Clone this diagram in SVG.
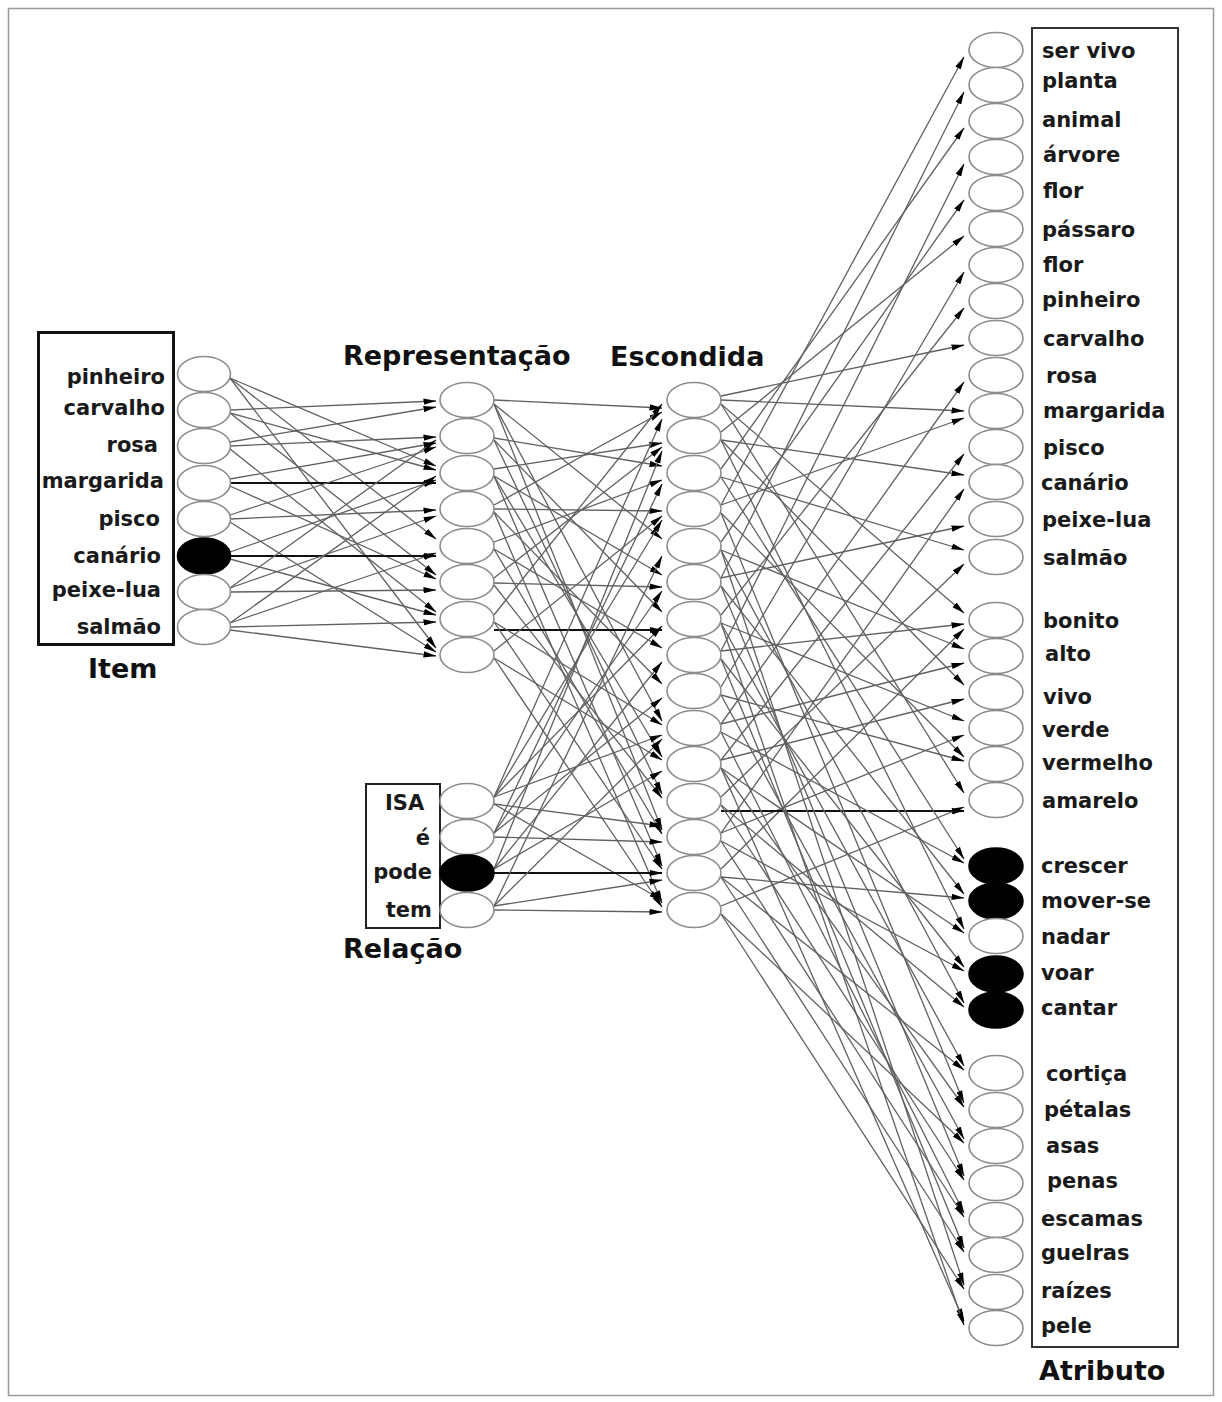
<svg xmlns="http://www.w3.org/2000/svg" width="1222" height="1402" viewBox="0 0 1222 1402">
  <style>
    .n { fill: #fff; stroke: #8c8c8c; stroke-width: 1.6; }
    .on { fill: #000; stroke: #000; stroke-width: 1.6; }
    .c { stroke: #606060; stroke-width: 1.3; fill: none; marker-end: url(#ah); }
    .b { stroke: #111; stroke-width: 2.2; fill: none; marker-end: url(#ah); }
    .lbl { font-family: "DejaVu Sans", Verdana, sans-serif; font-weight: bold; font-size: 21px; fill: #1a1a1a; }
    .end { text-anchor: end; }
    .ttl { font-family: "DejaVu Sans", Verdana, sans-serif; font-weight: bold; font-size: 27px; fill: #111; }
    .box { fill: none; }
  </style>
  <defs>
    <marker id="ah" markerUnits="userSpaceOnUse" markerWidth="13" markerHeight="7" refX="12.5" refY="3.5" orient="auto">
      <path d="M0,0.4 L13,3.5 L0,6.6 z" fill="#000"/>
    </marker>
  </defs>

  <rect x="0" y="0" width="1222" height="1402" fill="#fff"/>
  <rect x="8.5" y="8.5" width="1205" height="1387" fill="none" stroke="#9a9a9a" stroke-width="1.5"/>

  <!-- connectors -->
  <g id="connectors">
    <!-- item -> representation -->
    <line class="c" x1="230" y1="378" x2="436" y2="466"/>
    <line class="c" x1="230" y1="378" x2="436" y2="539"/>
    <line class="c" x1="230" y1="378" x2="436" y2="648"/>
    <line class="c" x1="230" y1="410" x2="436" y2="401"/>
    <line class="c" x1="230" y1="413" x2="436" y2="470"/>
    <line class="c" x1="230" y1="413" x2="436" y2="575"/>
    <line class="c" x1="230" y1="446" x2="436" y2="437"/>
    <line class="c" x1="230" y1="442" x2="436" y2="407"/>
    <line class="c" x1="230" y1="449" x2="436" y2="612"/>
    <line class="b" x1="230" y1="483" x2="436" y2="483"/>
    <line class="c" x1="230" y1="479" x2="436" y2="443"/>
    <line class="c" x1="230" y1="486" x2="436" y2="579"/>
    <line class="c" x1="230" y1="519" x2="436" y2="510"/>
    <line class="c" x1="230" y1="515" x2="436" y2="447"/>
    <line class="c" x1="230" y1="522" x2="436" y2="652"/>
    <line class="b" x1="230" y1="556" x2="436" y2="556"/>
    <line class="c" x1="230" y1="552" x2="436" y2="480"/>
    <line class="c" x1="230" y1="559" x2="436" y2="615"/>
    <line class="c" x1="230" y1="588" x2="436" y2="516"/>
    <line class="c" x1="230" y1="588" x2="436" y2="440"/>
    <line class="c" x1="230" y1="592" x2="436" y2="590"/>
    <line class="c" x1="230" y1="623" x2="436" y2="476"/>
    <line class="c" x1="230" y1="623" x2="436" y2="553"/>
    <line class="c" x1="230" y1="627" x2="436" y2="622"/>
    <line class="c" x1="230" y1="630" x2="436" y2="656"/>

    <!-- representation -> hidden -->
    <line class="c" x1="494" y1="400" x2="662" y2="408"/>
    <line class="c" x1="494" y1="404" x2="662" y2="539"/>
    <line class="c" x1="494" y1="404" x2="662" y2="721"/>
    <line class="c" x1="494" y1="404" x2="662" y2="830"/>
    <line class="c" x1="494" y1="438" x2="662" y2="466"/>
    <line class="c" x1="494" y1="440" x2="662" y2="612"/>
    <line class="c" x1="494" y1="440" x2="662" y2="794"/>
    <line class="c" x1="494" y1="469" x2="662" y2="443"/>
    <line class="c" x1="494" y1="476" x2="662" y2="575"/>
    <line class="c" x1="494" y1="476" x2="662" y2="757"/>
    <line class="c" x1="494" y1="476" x2="662" y2="866"/>
    <line class="c" x1="494" y1="505" x2="662" y2="412"/>
    <line class="c" x1="494" y1="509" x2="662" y2="511"/>
    <line class="c" x1="494" y1="512" x2="662" y2="684"/>
    <line class="c" x1="494" y1="512" x2="662" y2="903"/>
    <line class="c" x1="494" y1="542" x2="662" y2="480"/>
    <line class="c" x1="494" y1="549" x2="662" y2="648"/>
    <line class="c" x1="494" y1="549" x2="662" y2="834"/>
    <line class="c" x1="494" y1="578" x2="662" y2="447"/>
    <line class="c" x1="494" y1="583" x2="662" y2="587"/>
    <line class="c" x1="494" y1="585" x2="662" y2="798"/>
    <line class="b" x1="494" y1="630" x2="662" y2="630"/>
    <line class="c" x1="494" y1="615" x2="662" y2="404"/>
    <line class="c" x1="494" y1="622" x2="662" y2="725"/>
    <line class="c" x1="494" y1="622" x2="662" y2="869"/>
    <line class="c" x1="494" y1="651" x2="662" y2="516"/>
    <line class="c" x1="494" y1="658" x2="662" y2="760"/>
    <line class="c" x1="494" y1="658" x2="662" y2="907"/>

    <!-- relation -> hidden -->
    <line class="c" x1="494" y1="797" x2="662" y2="419"/>
    <line class="c" x1="494" y1="797" x2="662" y2="520"/>
    <line class="c" x1="494" y1="797" x2="662" y2="626"/>
    <line class="c" x1="494" y1="797" x2="662" y2="735"/>
    <line class="c" x1="494" y1="804" x2="662" y2="826"/>
    <line class="c" x1="494" y1="804" x2="662" y2="900"/>
    <line class="c" x1="494" y1="833" x2="662" y2="484"/>
    <line class="c" x1="494" y1="833" x2="662" y2="591"/>
    <line class="c" x1="494" y1="833" x2="662" y2="698"/>
    <line class="c" x1="494" y1="837" x2="662" y2="842"/>
    <line class="b" x1="494" y1="873" x2="662" y2="873"/>
    <line class="c" x1="494" y1="869" x2="662" y2="451"/>
    <line class="c" x1="494" y1="869" x2="662" y2="662"/>
    <line class="c" x1="494" y1="869" x2="662" y2="771"/>
    <line class="c" x1="494" y1="906" x2="662" y2="556"/>
    <line class="c" x1="494" y1="906" x2="662" y2="739"/>
    <line class="c" x1="494" y1="906" x2="662" y2="880"/>
    <line class="c" x1="494" y1="910" x2="662" y2="912"/>

    <!-- hidden -> attribute -->
    <line class="c" x1="721" y1="505" x2="964" y2="57"/>
    <line class="c" x1="721" y1="578" x2="964" y2="92"/>
    <line class="c" x1="721" y1="469" x2="964" y2="128"/>
    <line class="c" x1="721" y1="651" x2="964" y2="164"/>
    <line class="c" x1="721" y1="542" x2="964" y2="200"/>
    <line class="c" x1="721" y1="432" x2="964" y2="236"/>
    <line class="c" x1="721" y1="687" x2="964" y2="272"/>
    <line class="c" x1="721" y1="615" x2="964" y2="308"/>
    <line class="c" x1="721" y1="396" x2="964" y2="345"/>
    <line class="c" x1="721" y1="724" x2="964" y2="382"/>
    <line class="c" x1="721" y1="505" x2="964" y2="418"/>
    <line class="c" x1="721" y1="400" x2="964" y2="411"/>
    <line class="c" x1="721" y1="760" x2="964" y2="454"/>
    <line class="c" x1="721" y1="440" x2="964" y2="475"/>
    <line class="c" x1="721" y1="833" x2="964" y2="489"/>
    <line class="c" x1="721" y1="578" x2="964" y2="526"/>
    <line class="c" x1="721" y1="797" x2="964" y2="564"/>
    <line class="c" x1="721" y1="477" x2="964" y2="550"/>
    <line class="c" x1="721" y1="404" x2="964" y2="613"/>
    <line class="c" x1="721" y1="651" x2="964" y2="624"/>
    <line class="c" x1="721" y1="869" x2="964" y2="629"/>
    <line class="c" x1="721" y1="550" x2="964" y2="649"/>
    <line class="c" x1="721" y1="724" x2="964" y2="663"/>
    <line class="c" x1="721" y1="440" x2="964" y2="685"/>
    <line class="c" x1="721" y1="760" x2="964" y2="699"/>
    <line class="c" x1="721" y1="623" x2="964" y2="721"/>
    <line class="c" x1="721" y1="833" x2="964" y2="735"/>
    <line class="c" x1="721" y1="513" x2="964" y2="757"/>
    <line class="c" x1="721" y1="695" x2="964" y2="761"/>
    <line class="b" x1="721" y1="811" x2="964" y2="811"/>
    <line class="c" x1="721" y1="404" x2="964" y2="793"/>
    <line class="c" x1="721" y1="906" x2="964" y2="807"/>
    <line class="c" x1="721" y1="477" x2="964" y2="859"/>
    <line class="c" x1="721" y1="732" x2="964" y2="863"/>
    <line class="c" x1="721" y1="586" x2="964" y2="894"/>
    <line class="c" x1="721" y1="877" x2="964" y2="898"/>
    <line class="c" x1="721" y1="440" x2="964" y2="929"/>
    <line class="c" x1="721" y1="768" x2="964" y2="933"/>
    <line class="c" x1="721" y1="659" x2="964" y2="967"/>
    <line class="c" x1="721" y1="841" x2="964" y2="971"/>
    <line class="c" x1="721" y1="550" x2="964" y2="1003"/>
    <line class="c" x1="721" y1="805" x2="964" y2="1007"/>
    <line class="c" x1="721" y1="623" x2="964" y2="1066"/>
    <line class="c" x1="721" y1="877" x2="964" y2="1070"/>
    <line class="c" x1="721" y1="513" x2="964" y2="1103"/>
    <line class="c" x1="721" y1="768" x2="964" y2="1107"/>
    <line class="c" x1="721" y1="695" x2="964" y2="1139"/>
    <line class="c" x1="721" y1="914" x2="964" y2="1143"/>
    <line class="c" x1="721" y1="586" x2="964" y2="1176"/>
    <line class="c" x1="721" y1="805" x2="964" y2="1180"/>
    <line class="c" x1="721" y1="732" x2="964" y2="1213"/>
    <line class="c" x1="721" y1="841" x2="964" y2="1217"/>
    <line class="c" x1="721" y1="659" x2="964" y2="1248"/>
    <line class="c" x1="721" y1="877" x2="964" y2="1252"/>
    <line class="c" x1="721" y1="550" x2="964" y2="1285"/>
    <line class="c" x1="721" y1="914" x2="964" y2="1289"/>
    <line class="c" x1="721" y1="768" x2="964" y2="1321"/>
    <line class="c" x1="721" y1="623" x2="964" y2="1325"/>
  </g>

  <!-- item layer -->
  <g id="item-layer">
    <rect class="box" x="38.5" y="332.5" width="135" height="312" stroke="#111" stroke-width="3"/>
    <text class="ttl" x="88" y="678" font-size="26">Item</text>
    <g id="item-pinheiro"><ellipse class="n" cx="204" cy="374" rx="26.5" ry="17.5"/><text class="lbl end" x="165" y="384">pinheiro</text></g>
    <g id="item-carvalho"><ellipse class="n" cx="204" cy="410" rx="26.5" ry="17.5"/><text class="lbl end" x="165" y="415">carvalho</text></g>
    <g id="item-rosa"><ellipse class="n" cx="204" cy="446" rx="26.5" ry="17.5"/><text class="lbl end" x="158" y="452">rosa</text></g>
    <g id="item-margarida"><ellipse class="n" cx="204" cy="483" rx="26.5" ry="17.5"/><text class="lbl end" x="164" y="488">margarida</text></g>
    <g id="item-pisco"><ellipse class="n" cx="204" cy="519" rx="26.5" ry="17.5"/><text class="lbl end" x="160" y="526">pisco</text></g>
    <g id="item-canario"><ellipse class="on" cx="204" cy="556" rx="26.5" ry="18"/><text class="lbl end" x="161" y="563">canário</text></g>
    <g id="item-peixe-lua"><ellipse class="n" cx="204" cy="592" rx="26.5" ry="17.5"/><text class="lbl end" x="161" y="597">peixe-lua</text></g>
    <g id="item-salmao"><ellipse class="n" cx="204" cy="627" rx="26.5" ry="17.5"/><text class="lbl end" x="161" y="634">salmão</text></g>
  </g>

  <!-- representation layer -->
  <g id="representation-layer">
    <text class="ttl" x="343" y="365" font-size="27.5">Representação</text>
    <g id="rep-1"><ellipse class="n" cx="467" cy="400" rx="27" ry="17.5"/></g>
    <g id="rep-2"><ellipse class="n" cx="467" cy="436" rx="27" ry="17.5"/></g>
    <g id="rep-3"><ellipse class="n" cx="467" cy="473" rx="27" ry="17.5"/></g>
    <g id="rep-4"><ellipse class="n" cx="467" cy="509" rx="27" ry="17.5"/></g>
    <g id="rep-5"><ellipse class="n" cx="467" cy="546" rx="27" ry="17.5"/></g>
    <g id="rep-6"><ellipse class="n" cx="467" cy="582" rx="27" ry="17.5"/></g>
    <g id="rep-7"><ellipse class="n" cx="467" cy="619" rx="27" ry="17.5"/></g>
    <g id="rep-8"><ellipse class="n" cx="467" cy="655" rx="27" ry="17.5"/></g>
  </g>

  <!-- relation layer -->
  <g id="relation-layer">
    <rect class="box" x="366" y="784" width="74" height="144" stroke="#222" stroke-width="2"/>
    <text class="ttl" x="343" y="958">Relação</text>
    <g id="rel-isa"><ellipse class="n" cx="467" cy="801" rx="27" ry="17.5"/><text class="lbl" x="385" y="810" font-size="19">ISA</text></g>
    <g id="rel-e"><ellipse class="n" cx="467" cy="837" rx="27" ry="17.5"/><text class="lbl end" x="430" y="845">é</text></g>
    <g id="rel-pode"><ellipse class="on" cx="467" cy="873" rx="27" ry="18"/><text class="lbl end" x="432" y="879">pode</text></g>
    <g id="rel-tem"><ellipse class="n" cx="467" cy="910" rx="27" ry="17.5"/><text class="lbl end" x="432" y="917">tem</text></g>
  </g>

  <!-- hidden layer -->
  <g id="hidden-layer">
    <text class="ttl" x="610" y="366" font-size="27.4">Escondida</text>
    <g id="hid-1"><ellipse class="n" cx="694" cy="400" rx="27" ry="17.5"/></g>
    <g id="hid-2"><ellipse class="n" cx="694" cy="436" rx="27" ry="17.5"/></g>
    <g id="hid-3"><ellipse class="n" cx="694" cy="473" rx="27" ry="17.5"/></g>
    <g id="hid-4"><ellipse class="n" cx="694" cy="509" rx="27" ry="17.5"/></g>
    <g id="hid-5"><ellipse class="n" cx="694" cy="546" rx="27" ry="17.5"/></g>
    <g id="hid-6"><ellipse class="n" cx="694" cy="582" rx="27" ry="17.5"/></g>
    <g id="hid-7"><ellipse class="n" cx="694" cy="619" rx="27" ry="17.5"/></g>
    <g id="hid-8"><ellipse class="n" cx="694" cy="655" rx="27" ry="17.5"/></g>
    <g id="hid-9"><ellipse class="n" cx="694" cy="691" rx="27" ry="17.5"/></g>
    <g id="hid-10"><ellipse class="n" cx="694" cy="728" rx="27" ry="17.5"/></g>
    <g id="hid-11"><ellipse class="n" cx="694" cy="764" rx="27" ry="17.5"/></g>
    <g id="hid-12"><ellipse class="n" cx="694" cy="801" rx="27" ry="17.5"/></g>
    <g id="hid-13"><ellipse class="n" cx="694" cy="837" rx="27" ry="17.5"/></g>
    <g id="hid-14"><ellipse class="n" cx="694" cy="873" rx="27" ry="17.5"/></g>
    <g id="hid-15"><ellipse class="n" cx="694" cy="910" rx="27" ry="17.5"/></g>
  </g>

  <!-- attribute layer -->
  <g id="attribute-layer">
    <rect class="box" x="1032" y="28" width="146" height="1319" stroke="#333" stroke-width="2"/>
    <text class="ttl" x="1039" y="1380" font-size="25.5">Atributo</text>
    <g id="att-ser-vivo"><ellipse class="n" cx="996" cy="50" rx="27" ry="17.5"/><text class="lbl" x="1042" y="58">ser vivo</text></g>
    <g id="att-planta"><ellipse class="n" cx="996" cy="85" rx="27" ry="17.5"/><text class="lbl" x="1042" y="88">planta</text></g>
    <g id="att-animal"><ellipse class="n" cx="996" cy="121" rx="27" ry="17.5"/><text class="lbl" x="1042" y="127">animal</text></g>
    <g id="att-arvore"><ellipse class="n" cx="996" cy="157" rx="27" ry="17.5"/><text class="lbl" x="1043" y="162">árvore</text></g>
    <g id="att-flor-1"><ellipse class="n" cx="996" cy="193" rx="27" ry="17.5"/><text class="lbl" x="1043" y="198">flor</text></g>
    <g id="att-passaro"><ellipse class="n" cx="996" cy="229" rx="27" ry="17.5"/><text class="lbl" x="1042" y="237">pássaro</text></g>
    <g id="att-flor-2"><ellipse class="n" cx="996" cy="265" rx="27" ry="17.5"/><text class="lbl" x="1043" y="272">flor</text></g>
    <g id="att-pinheiro"><ellipse class="n" cx="996" cy="301" rx="27" ry="17.5"/><text class="lbl" x="1042" y="307">pinheiro</text></g>
    <g id="att-carvalho"><ellipse class="n" cx="996" cy="338" rx="27" ry="17.5"/><text class="lbl" x="1043" y="346">carvalho</text></g>
    <g id="att-rosa"><ellipse class="n" cx="996" cy="375" rx="27" ry="17.5"/><text class="lbl" x="1046" y="383">rosa</text></g>
    <g id="att-margarida"><ellipse class="n" cx="996" cy="411" rx="27" ry="17.5"/><text class="lbl" x="1043" y="418">margarida</text></g>
    <g id="att-pisco"><ellipse class="n" cx="996" cy="447" rx="27" ry="17.5"/><text class="lbl" x="1043" y="455">pisco</text></g>
    <g id="att-canario"><ellipse class="n" cx="996" cy="482" rx="27" ry="17.5"/><text class="lbl" x="1041" y="490">canário</text></g>
    <g id="att-peixe-lua"><ellipse class="n" cx="996" cy="519" rx="27" ry="17.5"/><text class="lbl" x="1042" y="527">peixe-lua</text></g>
    <g id="att-salmao"><ellipse class="n" cx="996" cy="557" rx="27" ry="17.5"/><text class="lbl" x="1043" y="565">salmão</text></g>
    <g id="att-bonito"><ellipse class="n" cx="996" cy="620" rx="27" ry="17.5"/><text class="lbl" x="1043" y="628">bonito</text></g>
    <g id="att-alto"><ellipse class="n" cx="996" cy="656" rx="27" ry="17.5"/><text class="lbl" x="1045" y="661">alto</text></g>
    <g id="att-vivo"><ellipse class="n" cx="996" cy="692" rx="27" ry="17.5"/><text class="lbl" x="1043" y="704">vivo</text></g>
    <g id="att-verde"><ellipse class="n" cx="996" cy="728" rx="27" ry="17.5"/><text class="lbl" x="1042" y="737">verde</text></g>
    <g id="att-vermelho"><ellipse class="n" cx="996" cy="764" rx="27" ry="17.5"/><text class="lbl" x="1042" y="770">vermelho</text></g>
    <g id="att-amarelo"><ellipse class="n" cx="996" cy="800" rx="27" ry="17.5"/><text class="lbl" x="1042" y="808">amarelo</text></g>
    <g id="att-crescer"><ellipse class="on" cx="996" cy="866" rx="27" ry="18"/><text class="lbl" x="1041" y="873">crescer</text></g>
    <g id="att-mover-se"><ellipse class="on" cx="996" cy="901" rx="27" ry="18"/><text class="lbl" x="1041" y="908">mover-se</text></g>
    <g id="att-nadar"><ellipse class="n" cx="996" cy="936" rx="27" ry="17.5"/><text class="lbl" x="1041" y="944">nadar</text></g>
    <g id="att-voar"><ellipse class="on" cx="996" cy="974" rx="27" ry="18"/><text class="lbl" x="1041" y="980">voar</text></g>
    <g id="att-cantar"><ellipse class="on" cx="996" cy="1010" rx="27" ry="18"/><text class="lbl" x="1041" y="1015">cantar</text></g>
    <g id="att-cortica"><ellipse class="n" cx="996" cy="1073" rx="27" ry="17.5"/><text class="lbl" x="1046" y="1081">cortiça</text></g>
    <g id="att-petalas"><ellipse class="n" cx="996" cy="1110" rx="27" ry="17.5"/><text class="lbl" x="1044" y="1117">pétalas</text></g>
    <g id="att-asas"><ellipse class="n" cx="996" cy="1146" rx="27" ry="17.5"/><text class="lbl" x="1046" y="1153">asas</text></g>
    <g id="att-penas"><ellipse class="n" cx="996" cy="1183" rx="27" ry="17.5"/><text class="lbl" x="1047" y="1188">penas</text></g>
    <g id="att-escamas"><ellipse class="n" cx="996" cy="1220" rx="27" ry="17.5"/><text class="lbl" x="1041" y="1226">escamas</text></g>
    <g id="att-guelras"><ellipse class="n" cx="996" cy="1255" rx="27" ry="17.5"/><text class="lbl" x="1041" y="1260">guelras</text></g>
    <g id="att-raizes"><ellipse class="n" cx="996" cy="1292" rx="27" ry="17.5"/><text class="lbl" x="1041" y="1298">raízes</text></g>
    <g id="att-pele"><ellipse class="n" cx="996" cy="1328" rx="27" ry="17.5"/><text class="lbl" x="1041" y="1333">pele</text></g>
  </g>
</svg>
